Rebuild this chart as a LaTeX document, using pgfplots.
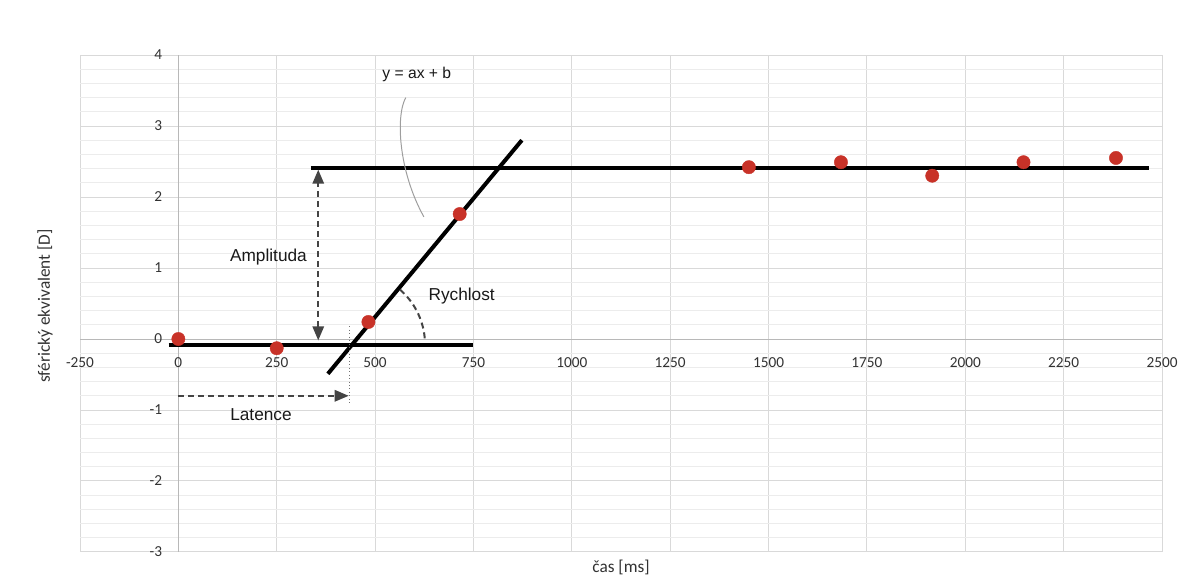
\documentclass[border=0pt]{standalone}
\usepackage{pgfplots}
\pgfplotsset{compat=1.18}
\usepackage{fontspec}
\setmainfont{Carlito}
\newfontfamily\arial{Liberation Sans}
\usetikzlibrary{arrows.meta}
\definecolor{dotred}{RGB}{200,50,40}
\definecolor{gridmaj}{RGB}{217,217,217}
\definecolor{gridmin}{RGB}{236,236,236}
\definecolor{ticktext}{RGB}{50,50,50}
\definecolor{arrowgray}{RGB}{68,68,68}
\begin{document}
\begin{tikzpicture}
\useasboundingbox (0,0) rectangle (890.25bp,435.75bp);
\begin{axis}[
  at={(60bp,21.75bp)}, anchor=south west,
  scale only axis, width=811.5bp, height=372.75bp,
  xmin=-250, xmax=2500, ymin=-3, ymax=4,
  axis lines=middle,
  axis line style={-, draw=black!28, line width=0.75bp},
  xtick={-250,0,250,500,750,1000,1250,1500,1750,2000,2250,2500},
  ytick={-3,-2,-1,0,1,2,3,4},
  minor y tick num=4,
  major tick length=0, minor tick length=0,
  grid=both,
  major grid style={draw=gridmaj, line width=0.75bp},
  minor grid style={draw=gridmin, line width=0.75bp},
  hide obscured x ticks=false, hide obscured y ticks=false,
  ticklabel style={font=\fontsize{11.5}{13}\selectfont, text=ticktext},
  xticklabel style={anchor=north, inner sep=0pt, yshift=-13.5bp},
  yticklabel style={anchor=east, inner sep=0pt, xshift=-12bp},
  /pgf/number format/assume math mode=true,
  /pgf/number format/1000 sep={},
  clip=false,
]
% measured points
\addplot[only marks, color=dotred, mark=*, mark size=5bp, mark options={solid, draw=dotred, fill=dotred, line width=0.3bp}]
  coordinates {(0,0.0) (250,-0.13) (483,0.24) (715,1.76) (1450,2.42) (1684,2.49) (1916,2.30) (2148,2.49) (2383,2.55)};
% fitted lines
\addplot[black, line width=3bp] coordinates {(-25,-0.08) (749,-0.08)};
\addplot[black, line width=3bp] coordinates {(337,2.415) (2466,2.415)};
\addplot[black, line width=3bp] coordinates {(380,-0.49) (873,2.80)};
% annotations
\draw[arrowgray, line width=1.5bp, dash pattern=on 4.5bp off 3bp,
  {Triangle[length=10.5bp,width=8.5bp]}-{Triangle[length=10.5bp,width=8.5bp]}]
  (axis cs:355.5,-0.02) -- (axis cs:355.5,2.385);
\draw[arrowgray, line width=1.5bp, dash pattern=on 4.5bp off 3bp,
  -{Triangle[length=10.5bp,width=8.5bp]}]
  (axis cs:0,-0.80) -- (axis cs:433,-0.80);
\draw[black!55, line width=0.6bp, dotted] (axis cs:434,0.18) -- (axis cs:434,-0.9);
\draw[arrowgray, line width=1.5bp, dash pattern=on 4.5bp off 3bp]
  (axis cs:441.4,-0.08) ++(5:54.75bp) arc[start angle=5, end angle=49, radius=54.75bp];
\draw[black!38, line width=0.75bp]
  (axis cs:578,3.40) .. controls (axis cs:552.8,3.155) and (axis cs:558,2.38) .. (axis cs:624,1.72);
\node[font=\arial\fontsize{13}{15}\selectfont, text=black!90] at (axis cs:229,1.16) {Amplituda};
\node[font=\arial\fontsize{13}{15}\selectfont, text=black!90] at (axis cs:210,-1.07) {Latence};
\node[font=\arial\fontsize{13}{15}\selectfont, text=black!90] at (axis cs:720,0.61) {Rychlost};
\node[font=\arial\fontsize{11.8}{14}\selectfont, text=black!90] at (axis cs:606,3.72) {y = ax + b};
\end{axis}
\node[font=\fontsize{13}{15}\selectfont, text=ticktext] at (465.75bp,10.5bp) {čas [ms]};
\node[font=\fontsize{13}{15}\selectfont, text=ticktext, rotate=90] at (33.75bp,206.25bp) {sférický ekvivalent [D]};
\end{tikzpicture}
\end{document}
